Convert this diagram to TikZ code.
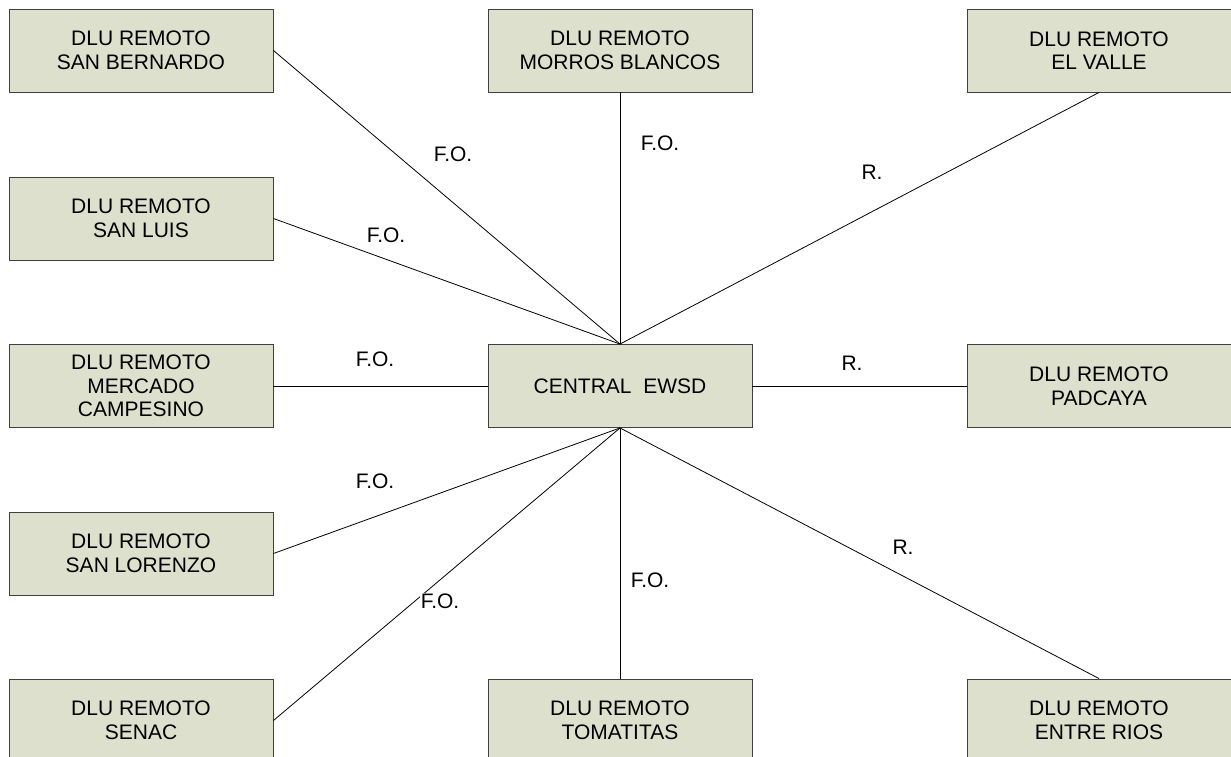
\documentclass[tikz,border=0pt]{standalone}
\usepackage{fontspec}
\setmainfont{Liberation Sans}
\definecolor{boxfill}{RGB}{221,224,204}
\definecolor{boxline}{RGB}{64,64,64}
\begin{document}
\begin{tikzpicture}[x=1pt,y=-1pt,
  dlubox/.style={draw=boxline,line width=0.9pt,fill=boxfill,minimum width=264pt,minimum height=83pt,
    inner sep=0pt,align=center,font=\fontsize{21}{23.6}\selectfont},
  link/.style={draw=black,line width=0.8pt},
  lbl/.style={font=\fontsize{21}{24}\selectfont,fill=white,inner sep=1pt}]
\useasboundingbox (0,0) rectangle (1231,757);
\node[dlubox] (sb) at (141,50.5) {DLU REMOTO\\SAN BERNARDO};
\node[dlubox] (mb) at (620,50.5) {DLU REMOTO\\MORROS BLANCOS};
\node[dlubox] (ev) at (1099,50.5) {DLU REMOTO\\EL VALLE};
\node[dlubox] (slu) at (141,218.5) {DLU REMOTO\\SAN LUIS};
\node[dlubox] (mc) at (141,386) {DLU REMOTO\\MERCADO\\CAMPESINO};
\node[dlubox] (ce) at (620,386) {CENTRAL\ \ EWSD};
\node[dlubox] (pa) at (1099,386) {DLU REMOTO\\PADCAYA};
\node[dlubox] (slo) at (141,553.5) {DLU REMOTO\\SAN LORENZO};
\node[dlubox] (se) at (141,720.5) {DLU REMOTO\\SENAC};
\node[dlubox] (to) at (620,720.5) {DLU REMOTO\\TOMATITAS};
\node[dlubox] (er) at (1099,720.5) {DLU REMOTO\\ENTRE RIOS};
\draw[link] (sb.east) -- (ce.north);
\draw[link] (slu.east) -- (ce.north);
\draw[link] (mb.south) -- (ce.north);
\draw[link] (ev.south) -- (ce.north);
\draw[link] (mc.east) -- (ce.west);
\draw[link] (ce.east) -- (pa.west);
\draw[link] (ce.south) -- (slo.east);
\draw[link] (ce.south) -- (se.east);
\draw[link] (ce.south) -- (to.north);
\draw[link] (ce.south) -- (er.north);
\node[lbl] (l1) at (453,154) {F.O.};
\node[lbl] (l2) at (660,143) {F.O.};
\node[lbl] (l3) at (872,172) {R.};
\node[lbl] (l4) at (386,235) {F.O.};
\node[lbl] (l5) at (375,359) {F.O.};
\node[lbl] (l6) at (852,363) {R.};
\node[lbl] (l7) at (375,481) {F.O.};
\node[lbl] (l8) at (440,601) {F.O.};
\node[lbl] (l9) at (650,580) {F.O.};
\node[lbl] (l10) at (903,547) {R.};
\end{tikzpicture}
\end{document}
